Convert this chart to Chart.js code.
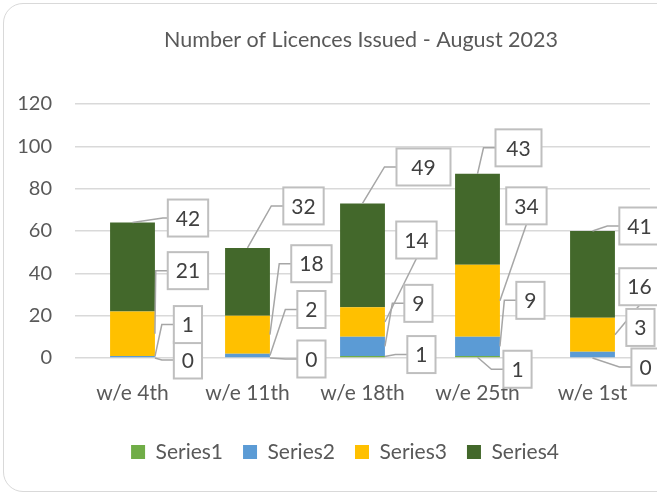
<!DOCTYPE html>
<html>
<head>
<meta charset="utf-8">
<title>Number of Licences Issued - August 2023</title>
<script src="https://cdn.jsdelivr.net/npm/chart.js@4.4.0/dist/chart.umd.min.js"></script>
<style>
  html, body { margin: 0; padding: 0; overflow: hidden; background: #fff; }
  .card {
    position: absolute; left: 3px; top: 3px;
    width: 720px; height: 489px;
    border: 1.5px solid #d9d9d9; border-radius: 20px;
    box-sizing: border-box;
  }
  #licenceChart { position: absolute; left: 0; top: 0; }
</style>
</head>
<body>
<div class="card"></div>
<canvas id="licenceChart" width="657" height="494"></canvas>
<script>
// Data
const categories = ["w/e 4th", "w/e 11th", "w/e 18th", "w/e 25th", "w/e 1st"];
const series1 = [0, 0, 1, 1, 0];
const series2 = [1, 2, 9, 9, 3];
const series3 = [21, 18, 14, 34, 16];
const series4 = [42, 32, 49, 43, 41];
const yTicks = [0, 20, 40, 60, 80, 100, 120];

// Label placement (a = anchor on the bar, dx/dy = box offset, l = leader style)
const labelPlacement = [
  [
    { a: "right", dx: 33, dy: 2, l: "elbow" },
    { a: "right", dx: 41.5, dy: 1, l: "elbow" },
    { a: "right", dx: 36.5, dy: -2, l: "elbow" },
    { a: "bottom", dx: 40, dy: 12, l: "elbow" },
    { a: "bottom", dx: 53, dy: 9, l: "elbow" },
  ],
  [
    { a: "right", dx: 33, dy: -32, l: "elbow" },
    { a: "right", dx: 41.5, dy: -46, l: "elbow" },
    { a: "right", dx: 33.5, dy: -43, l: "elbow" },
    { a: "right", dx: 30.5, dy: -46, l: "elbow" },
    { a: "right", dx: 25.5, dy: -27, l: "none" },
  ],
  [
    { a: "right", dx: 33, dy: -63, l: "elbow" },
    { a: "right", dx: 41.5, dy: -71, l: "elbow" },
    { a: "right", dx: 31.5, dy: -82, l: "below" },
    { a: "right", dx: 26.5, dy: -95, l: "below" },
    { a: "right", dx: 24.5, dy: -48, l: "below" },
  ],
  [
    { a: "top", dx: 55.5, dy: -4.5, l: "elbow", stub: 5 },
    { a: "top", dx: 56, dy: -42, l: "elbow" },
    { a: "top", dx: 61, dy: -36.5, l: "elbow", w: 54 },
    { a: "top", dx: 41, dy: -26, l: "elbow", w: 46 },
    { a: "top", dx: 47, dy: -5, l: "elbow" },
  ],
];

const FONT = "Lato";

// Boxed data labels with leader lines
const boxLabels = {
  id: "boxLabels",
  afterLayout(chart) {
    // legend sits a little right of the canvas centre
    chart.legend.left += 20;
    chart.legend.right += 20;
  },
  afterDatasetsDraw(chart) {
    const ctx = chart.ctx;
    ctx.save();
    ctx.font = "21px " + FONT;
    const boxes = [];

    ctx.strokeStyle = "#a6a6a6";
    ctx.lineWidth = 1.5;
    chart.data.datasets.forEach((ds, i) => {
      const meta = chart.getDatasetMeta(i);
      meta.data.forEach((bar, j) => {
        const p = labelPlacement[i][j];
        const { x, y, base, width } = bar.getProps(["x", "y", "base", "width"], true);
        let ax, ay;
        if (p.a === "top") {
          ax = x; ay = y;
        } else if (p.a === "bottom") {
          ax = x; ay = base;
        } else {
          ax = x + width / 2; ay = (y + base) / 2;
        }
        const text = String(ds.data[j]);
        const w = p.w || ctx.measureText(text).width + 16;
        const h = 37;
        const cx = ax + p.dx;
        const cy = ay + p.dy;
        boxes.push({ text, cx, cy, w, h });

        if (p.l === "elbow") {
          const left = cx - w / 2;
          const ex = Math.max(ax, left - (p.stub || 12));
          ctx.beginPath();
          ctx.moveTo(ax, ay);
          ctx.lineTo(ex, cy);
          ctx.lineTo(left, cy);
          ctx.stroke();
        } else if (p.l === "below") {
          ctx.beginPath();
          ctx.moveTo(ax, ay);
          ctx.lineTo(cx, cy + h / 2);
          ctx.stroke();
        }
      });
    });

    boxes.forEach((b) => {
      ctx.fillStyle = "#ffffff";
      ctx.fillRect(b.cx - b.w / 2, b.cy - b.h / 2, b.w, b.h);
      ctx.strokeStyle = "#bfbfbf";
      ctx.lineWidth = 2;
      ctx.strokeRect(b.cx - b.w / 2, b.cy - b.h / 2, b.w, b.h);
      ctx.fillStyle = "#404040";
      ctx.textAlign = "center";
      ctx.textBaseline = "middle";
      ctx.fillText(b.text, b.cx, b.cy + 1);
    });

    // Title
    ctx.font = "21.5px " + FONT;
    ctx.fillStyle = "#595959";
    ctx.textAlign = "center";
    ctx.textBaseline = "middle";
    ctx.fillText("Number of Licences Issued - August 2023", 361, 40);
    ctx.restore();
  },
};

document.addEventListener("DOMContentLoaded", function () {
  const ctx = document.getElementById("licenceChart");
  new Chart(ctx, {
    type: "bar",
    data: {
      labels: categories,
      datasets: [
        { label: "Series1", data: series1, backgroundColor: "#70ad47" },
        { label: "Series2", data: series2, backgroundColor: "#5b9bd5" },
        { label: "Series3", data: series3, backgroundColor: "#ffc000" },
        { label: "Series4", data: series4, backgroundColor: "#43682b" },
      ],
    },
    options: {
      responsive: false,
      animation: false,
      devicePixelRatio: 1,
      categoryPercentage: 1,
      barPercentage: 0.39,
      layout: {
        padding: { left: 0, right: 7, top: 104, bottom: 21.5 },
      },
      plugins: {
        title: { display: false },
        tooltip: { enabled: false },
        legend: {
          position: "bottom",
          labels: {
            boxWidth: 14,
            boxHeight: 14,
            padding: 20,
            color: "#595959",
            font: { family: FONT, size: 21 },
          },
        },
      },
      scales: {
        x: {
          stacked: true,
          grid: { display: false },
          border: { display: false },
          ticks: {
            color: "#595959",
            padding: 15,
            font: { family: FONT, size: 21 },
          },
          afterFit(scale) {
            scale.height = 63.5;
          },
        },
        y: {
          stacked: true,
          min: yTicks[0],
          max: yTicks[yTicks.length - 1],
          grid: { color: "#d9d9d9", lineWidth: 1.5, drawTicks: false },
          border: { display: false },
          afterBuildTicks(scale) {
            scale.ticks = yTicks.map((v) => ({ value: v }));
          },
          ticks: {
            color: "#595959",
            padding: 23,
            font: { family: FONT, size: 20 },
            callback: (value) => String(value),
          },
          afterFit(scale) {
            scale.width = 75;
          },
        },
      },
    },
    plugins: [boxLabels],
  });
});
</script>
</body>
</html>
